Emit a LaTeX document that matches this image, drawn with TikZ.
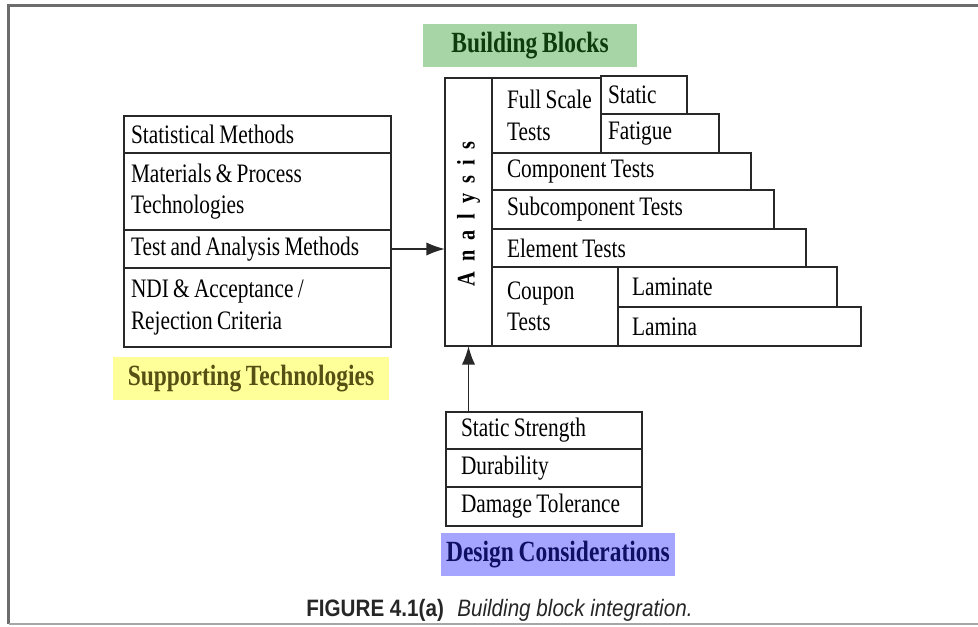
\documentclass[tikz,border=0pt]{standalone}
\usepackage{fontspec}
\usepackage{xcolor}
\usepackage{tikz}
\usetikzlibrary{arrows.meta, calc}
\newfontfamily\boxfont[FakeStretch=0.8, WordSpace=0.8]{Liberation Serif}
\newfontfamily\capfont[FakeStretch=0.87]{Liberation Sans}
\definecolor{blockgreen}{RGB}{168,213,165}
\definecolor{blockgreentext}{RGB}{15,60,15}
\definecolor{supportyellow}{RGB}{255,255,153}
\definecolor{supportyellowtext}{RGB}{85,80,20}
\definecolor{designblue}{RGB}{165,165,255}
\definecolor{designbluetext}{RGB}{15,15,100}
\definecolor{rule}{RGB}{40,40,40}
\tikzset{
  cell/.style={draw=rule, line width=1pt, anchor=north west, inner sep=0pt, outer sep=0pt, font=\boxfont\fontsize{20}{23.5}\selectfont},
  tag/.style={inner sep=0pt, minimum height=43*0.75pt, font=\boxfont\bfseries\fontsize{22}{26}\selectfont},
  conn/.style={draw=rule, line width=1.4pt, -{Latex[length=14pt, width=10pt]}}
}
% #1 inset, #2 name, #3 #4 top left, #5 #6 bottom right, #7 text
\providecommand{\Cell}[7][7]{%
  \pgfmathsetmacro{\cw}{(#5-#3)*0.75}%
  \pgfmathsetmacro{\ch}{(#6-#4)*0.75}%
  \pgfmathsetmacro{\tw}{(#5-#3-#1)*0.75}%
  \pgfmathsetmacro{\ci}{#1*0.75}%
  \node[cell, minimum width=\cw pt, minimum height=\ch pt] (#2) at (#3,#4)
    {\hspace*{\ci pt}\parbox[c]{\tw pt}{\raggedright #7}};
}
\begin{document}
\begin{tikzpicture}[x=0.75pt, y=-0.75pt]
\useasboundingbox (0,0) rectangle (978,626);

	% frame
	\draw[gray!85!black, line width=2pt] (978,5.5) -- (8.5,5.5) -- (8.5,624);
	\draw[gray!70, line width=1.2pt] (8.5,624) -- (978,624);

	% supporting technologies
	\Cell{stat}{124}{116}{391}{153}{Statistical Methods}
	\Cell{mat}{124}{153}{391}{230}{Materials \& Process\\Technologies}
	\Cell{tam}{124}{230}{391}{268}{Test and Analysis Methods}
	\Cell{ndi}{124}{268}{391}{347}{NDI \& Acceptance /\\Rejection Criteria}

	% building blocks
	\Cell{analysis}{445}{78}{492}{346}{}
	\Cell[15]{full}{492}{78}{601}{153}{Full Scale\\Tests}
	\Cell{static}{601}{76}{687}{114}{Static}
	\Cell{fatigue}{601}{114}{719}{153}{Fatigue}
	\Cell[15]{component}{492}{153}{751}{190}{Component Tests}
	\Cell[15]{subcomponent}{492}{190}{774}{229}{Subcomponent Tests}
	\Cell[15]{element}{492}{229}{806}{267}{Element Tests}
	\Cell[15]{coupon}{492}{267}{618}{346}{Coupon\\Tests}
	\Cell[14]{laminate}{618}{267}{837}{307}{Laminate}
	\Cell[14]{lamina}{618}{307}{861}{346}{Lamina}
	\node[rotate=90, inner sep=0pt, font=\boxfont\bfseries\fontsize{19}{22}\selectfont] (analysislabel) at ($(analysis.center)+(0,2)$)
		{A\hspace{7.7pt}n\hspace{7.7pt}a\hspace{7.7pt}l\hspace{7.7pt}y\hspace{7.7pt}s\hspace{7.7pt}i\hspace{7.7pt}s};

	% design considerations
	\Cell[15]{strength}{446}{412}{642}{449}{Static Strength}
	\Cell[15]{durability}{446}{449}{642}{487}{Durability}
	\Cell[15]{tolerance}{446}{487}{642}{526}{Damage Tolerance}

	\draw[conn] (tam.east) -- (tam.east -| analysis.west);
	\draw[conn] (strength.north -| analysis.south) -- (analysis.south);

	\node[tag, fill=blockgreen, text=blockgreentext, minimum width=214*0.75pt] (blocks) at (530,45.5) {Building Blocks};
	\node[tag, fill=supportyellow, text=supportyellowtext, minimum width=276*0.75pt] (support) at (251,378.5) {Supporting Technologies};
	\node[tag, fill=designblue, text=designbluetext, minimum width=234*0.75pt] (design) at (558,554.5) {Design Considerations};

	\node[anchor=base west, inner sep=0pt, text=black!85, font=\capfont\fontsize{17.8}{20}\selectfont] (caption) at (306,616)
		{\textbf{FIGURE 4.1(a)}\hspace{10pt}\textit{Building block integration.}};

\end{tikzpicture}
\end{document}
